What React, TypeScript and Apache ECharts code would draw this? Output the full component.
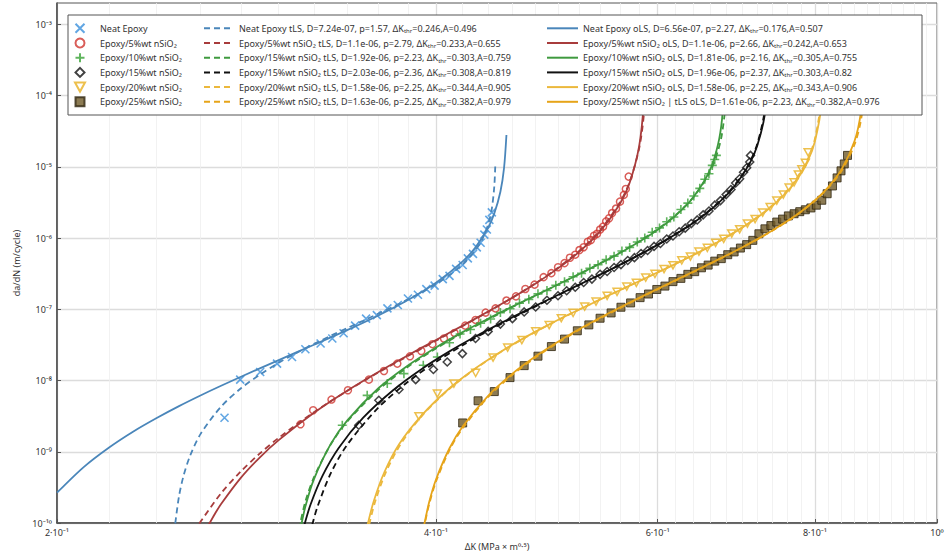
import React, { useEffect, useRef } from "react";
import * as echarts from "echarts";

const FONT = "'Noto Sans', 'DejaVu Sans', sans-serif";

// Axis ticks
const xTickValues = [0.2, 0.4, 0.6, 0.8, 1.0];
const xTickLabels = ["2·10⁻¹", "4·10⁻¹", "6·10⁻¹", "8·10⁻¹", "10⁰"];
const yTickValues = [1e-10, 1e-9, 1e-8, 1e-7, 1e-6, 1e-5, 1e-4, 1e-3];
const yTickLabels = ["10⁻¹⁰", "10⁻⁹", "10⁻⁸", "10⁻⁷", "10⁻⁶", "10⁻⁵", "10⁻⁴", "10⁻³"];

// Measured crack growth rates [ΔK, da/dN]
const neatPts = [
  [0.2717, 3.0e-9], [0.2796, 1.03e-8], [0.29, 1.32e-8], [0.2991, 1.73e-8], [0.3074, 2.14e-8],
  [0.315, 2.75e-8], [0.3239, 3.31e-8], [0.3309, 3.89e-8], [0.3378, 4.62e-8], [0.345, 5.9e-8],
  [0.352, 7.4e-8], [0.359, 8.3e-8], [0.366, 1.03e-7], [0.373, 1.15e-7], [0.38, 1.42e-7],
  [0.387, 1.6e-7], [0.393, 1.92e-7], [0.399, 2.15e-7], [0.405, 2.65e-7], [0.41, 2.95e-7],
  [0.415, 3.7e-7], [0.42, 4.2e-7], [0.424, 5.2e-7], [0.428, 6.0e-7], [0.431, 7.4e-7],
  [0.434, 8.6e-7], [0.437, 1.12e-6], [0.439, 1.32e-6], [0.441, 1.8e-6], [0.443, 2.3e-6],
];
const si5Pts = [
  [0.3122, 2.43e-9], [0.3195, 3.83e-9], [0.3304, 5.41e-9], [0.3405, 7.31e-9], [0.3538, 1.03e-8],
  [0.3637, 1.36e-8], [0.3727, 1.73e-8], [0.3814, 2.19e-8], [0.3894, 2.6e-8], [0.3974, 3.24e-8],
  [0.4059, 3.89e-8], [0.4138, 4.66e-8], [0.422, 5.9e-8], [0.43, 7.1e-8], [0.438, 9.0e-8],
  [0.446, 1.03e-7], [0.455, 1.33e-7], [0.463, 1.52e-7], [0.471, 1.93e-7], [0.479, 2.22e-7],
  [0.487, 2.83e-7], [0.494, 3.22e-7], [0.5, 3.9e-7], [0.506, 4.45e-7], [0.511, 5.3e-7],
  [0.516, 5.85e-7], [0.52, 6.8e-7], [0.524, 7.45e-7], [0.528, 8.9e-7], [0.531, 9.4e-7],
  [0.534, 1.08e-6], [0.537, 1.15e-6], [0.54, 1.32e-6], [0.543, 1.45e-6], [0.546, 1.72e-6],
  [0.549, 1.9e-6], [0.552, 2.25e-6], [0.556, 2.6e-6], [0.56, 3.25e-6], [0.564, 4.05e-6],
  [0.566, 4.9e-6], [0.569, 7.3e-6],
];
const si10Pts = [
  [0.337, 2.36e-9], [0.3527, 6.2e-9], [0.3659, 9.1e-9], [0.3772, 1.25e-8], [0.3908, 1.64e-8],
  [0.401, 2.14e-8], [0.41, 3.4e-8], [0.418, 4.5e-8], [0.426, 5.2e-8], [0.434, 6.4e-8],
  [0.442, 7.3e-8], [0.45, 9.0e-8], [0.458, 1.02e-7], [0.466, 1.22e-7], [0.474, 1.38e-7],
  [0.482, 1.65e-7], [0.49, 1.84e-7], [0.498, 2.18e-7], [0.506, 2.44e-7], [0.514, 2.87e-7],
  [0.522, 3.2e-7], [0.53, 3.78e-7], [0.538, 4.22e-7], [0.546, 4.98e-7], [0.554, 5.58e-7],
  [0.562, 6.6e-7], [0.57, 7.4e-7], [0.578, 8.8e-7], [0.586, 1.0e-6], [0.594, 1.21e-6],
  [0.602, 1.39e-6], [0.61, 1.7e-6], [0.618, 1.98e-6], [0.626, 2.52e-6], [0.634, 3.1e-6],
  [0.641, 3.9e-6], [0.648, 5.0e-6], [0.654, 6.7e-6], [0.659, 8.0e-6], [0.663, 1.05e-5],
  [0.666, 1.27e-5], [0.668, 1.45e-5],
];
const si15Pts = [
  [0.3473, 2.36e-9], [0.3603, 5.29e-9], [0.3738, 7.5e-9], [0.3854, 1.03e-8], [0.3981, 1.43e-8],
  [0.4083, 1.82e-8], [0.4198, 2.39e-8], [0.43, 3.9e-8], [0.44, 4.9e-8], [0.45, 6.2e-8],
  [0.46, 7.4e-8], [0.47, 9.2e-8], [0.48, 1.08e-7], [0.49, 1.34e-7], [0.5, 1.55e-7],
  [0.508, 1.82e-7], [0.516, 2.04e-7], [0.524, 2.38e-7], [0.532, 2.66e-7], [0.54, 3.1e-7],
  [0.547, 3.4e-7], [0.554, 3.87e-7], [0.561, 4.25e-7], [0.568, 4.85e-7], [0.575, 5.32e-7],
  [0.582, 6.07e-7], [0.589, 6.7e-7], [0.596, 7.65e-7], [0.603, 8.4e-7], [0.61, 9.7e-7],
  [0.617, 1.07e-6], [0.624, 1.23e-6], [0.631, 1.38e-6], [0.638, 1.6e-6], [0.645, 1.8e-6],
  [0.652, 2.12e-6], [0.659, 2.4e-6], [0.666, 2.9e-6], [0.673, 3.36e-6], [0.68, 4.08e-6],
  [0.686, 4.8e-6], [0.692, 5.95e-6], [0.697, 6.8e-6], [0.702, 8.4e-6], [0.706, 9.7e-6],
  [0.71, 1.17e-5], [0.711, 1.45e-5],
];
const si20Pts = [
  [0.3877, 3.15e-9], [0.401, 6.57e-9], [0.4133, 9.08e-9], [0.4301, 1.28e-8], [0.444, 2.1e-8],
  [0.456, 2.9e-8], [0.468, 3.7e-8], [0.48, 4.9e-8], [0.492, 6.0e-8], [0.503, 7.5e-8],
  [0.514, 8.9e-8], [0.525, 1.09e-7], [0.536, 1.28e-7], [0.547, 1.55e-7], [0.557, 1.76e-7],
  [0.567, 2.08e-7], [0.577, 2.36e-7], [0.587, 2.78e-7], [0.597, 3.14e-7], [0.607, 3.68e-7],
  [0.617, 4.15e-7], [0.627, 4.86e-7], [0.637, 5.5e-7], [0.647, 6.45e-7], [0.657, 7.3e-7],
  [0.667, 8.6e-7], [0.677, 9.8e-7], [0.687, 1.16e-6], [0.697, 1.33e-6], [0.707, 1.6e-6],
  [0.717, 1.85e-6], [0.727, 2.28e-6], [0.737, 2.72e-6], [0.746, 3.35e-6], [0.755, 4.08e-6],
  [0.763, 5.1e-6], [0.77, 6.05e-6], [0.776, 7.8e-6], [0.781, 9.2e-6], [0.786, 1.14e-5],
  [0.79, 1.6e-5],
];
const si25Pts = [
  [0.42, 2.54e-9], [0.432, 5.2e-9], [0.445, 7.0e-9], [0.458, 1.1e-8], [0.47, 1.62e-8],
  [0.482, 2.2e-8], [0.494, 3.0e-8], [0.506, 3.82e-8], [0.518, 5.0e-8], [0.529, 6.05e-8],
  [0.54, 7.5e-8], [0.551, 8.9e-8], [0.561, 1.07e-7], [0.571, 1.23e-7], [0.581, 1.46e-7],
  [0.59, 1.64e-7], [0.599, 1.9e-7], [0.608, 2.12e-7], [0.617, 2.45e-7], [0.626, 2.72e-7],
  [0.634, 3.1e-7], [0.642, 3.38e-7], [0.65, 3.83e-7], [0.658, 4.18e-7], [0.666, 4.75e-7],
  [0.674, 5.15e-7], [0.682, 5.85e-7], [0.69, 6.4e-7], [0.698, 7.25e-7], [0.706, 8.1e-7],
  [0.714, 9.3e-7], [0.722, 1.15e-6], [0.73, 1.35e-6], [0.738, 1.5e-6], [0.746, 1.68e-6],
  [0.754, 1.85e-6], [0.762, 2.05e-6], [0.77, 2.2e-6], [0.778, 2.35e-6], [0.786, 2.5e-6],
  [0.794, 2.65e-6], [0.802, 2.9e-6], [0.81, 3.4e-6], [0.818, 4.2e-6], [0.826, 5.4e-6],
  [0.833, 7.0e-6], [0.839, 8.8e-6], [0.844, 1.1e-5], [0.849, 1.45e-5],
];

// Fitted curves (tLS dashed, oLS solid) [ΔK, da/dN]
const neatTLS = [
  [0.2483, 9.9e-11], [0.25, 2.37e-10], [0.252, 4.5e-10], [0.255, 8.6e-10], [0.26, 1.77e-9],
  [0.27, 4.3e-9], [0.28, 7.8e-9], [0.29, 1.22e-8], [0.3, 1.78e-8], [0.31, 2.45e-8],
  [0.32, 3.27e-8], [0.33, 4.26e-8], [0.34, 5.45e-8], [0.35, 6.9e-8], [0.36, 8.7e-8],
  [0.37, 1.09e-7], [0.38, 1.38e-7], [0.39, 1.75e-7], [0.4, 2.27e-7], [0.41, 3.03e-7],
  [0.42, 4.28e-7], [0.43, 6.8e-7], [0.435, 9.4e-7], [0.44, 1.55e-6], [0.443, 2.6e-6],
  [0.445, 5.3e-6], [0.4458, 1.04e-5],
];
const neatOLS = [
  [0.2, 2.66e-10], [0.21, 6.1e-10], [0.22, 1.15e-9], [0.23, 1.93e-9], [0.24, 2.98e-9],
  [0.25, 4.38e-9], [0.26, 6.18e-9], [0.27, 8.46e-9], [0.28, 1.13e-8], [0.3, 1.94e-8],
  [0.32, 3.18e-8], [0.34, 5.1e-8], [0.36, 8.2e-8], [0.38, 1.35e-7], [0.4, 2.36e-7],
  [0.42, 4.72e-7], [0.43, 7.46e-7], [0.44, 1.4e-6], [0.445, 2.22e-6], [0.45, 4.48e-6],
  [0.453, 9.6e-6], [0.455, 2.8e-5],
];
const si5TLS = [
  [0.2595, 9.8e-11], [0.26, 1.04e-10], [0.27, 2.62e-10], [0.28, 5.33e-10], [0.29, 9.55e-10],
  [0.3, 1.57e-9], [0.32, 3.6e-9], [0.34, 7.15e-9], [0.36, 1.3e-8], [0.38, 2.21e-8],
  [0.4, 3.63e-8], [0.42, 5.82e-8], [0.44, 9.2e-8], [0.46, 1.46e-7], [0.48, 2.33e-7],
  [0.5, 3.83e-7], [0.52, 6.67e-7], [0.54, 1.29e-6], [0.56, 3.18e-6], [0.57, 6.15e-6],
  [0.58, 1.82e-5], [0.585, 5.4e-5], [0.588, 2.55e-4],
];
const si5OLS = [
  [0.264, 9.5e-11], [0.267, 1.35e-10], [0.27, 1.85e-10], [0.28, 4.34e-10], [0.29, 8.44e-10],
  [0.3, 1.46e-9], [0.32, 3.53e-9], [0.34, 7.2e-9], [0.36, 1.32e-8], [0.38, 2.26e-8],
  [0.4, 3.71e-8], [0.42, 5.91e-8], [0.44, 9.3e-8], [0.46, 1.46e-7], [0.48, 2.31e-7],
  [0.5, 3.76e-7], [0.52, 6.46e-7], [0.54, 1.24e-6], [0.56, 3.04e-6], [0.57, 5.98e-6],
  [0.58, 1.96e-5], [0.585, 8.2e-5], [0.587, 5.0e-4],
];
const si10TLS = [
  [0.31, 5.9e-11], [0.3121, 1.0e-10], [0.315, 2.0e-10], [0.32, 4.4e-10], [0.33, 1.27e-9],
  [0.34, 2.65e-9], [0.36, 7.4e-9], [0.38, 1.56e-8], [0.4, 2.82e-8], [0.42, 4.65e-8],
  [0.44, 7.2e-8], [0.46, 1.08e-7], [0.48, 1.56e-7], [0.5, 2.23e-7], [0.52, 3.14e-7],
  [0.54, 4.42e-7], [0.56, 6.27e-7], [0.58, 9.0e-7], [0.6, 1.34e-6], [0.62, 2.11e-6],
  [0.64, 3.7e-6], [0.66, 8.4e-6], [0.67, 1.69e-5], [0.675, 2.97e-5], [0.68, 8.9e-5],
  [0.682, 2.9e-4],
];
const si10OLS = [
  [0.312, 7.8e-11], [0.315, 1.7e-10], [0.32, 4.14e-10], [0.33, 1.29e-9], [0.34, 2.74e-9],
  [0.36, 7.8e-9], [0.38, 1.63e-8], [0.4, 2.92e-8], [0.42, 4.79e-8], [0.44, 7.38e-8],
  [0.46, 1.09e-7], [0.48, 1.57e-7], [0.5, 2.23e-7], [0.52, 3.13e-7], [0.54, 4.39e-7],
  [0.56, 6.18e-7], [0.58, 8.87e-7], [0.6, 1.31e-6], [0.62, 2.07e-6], [0.64, 3.68e-6],
  [0.66, 8.9e-6], [0.67, 2.07e-5], [0.675, 4.77e-5], [0.678, 1.59e-4],
];
const si15TLS = [
  [0.319, 9.5e-11], [0.322, 1.68e-10], [0.33, 5.0e-10], [0.34, 1.25e-9], [0.36, 4.17e-9],
  [0.38, 9.6e-9], [0.4, 1.83e-8], [0.42, 3.13e-8], [0.44, 4.99e-8], [0.46, 7.55e-8],
  [0.48, 1.1e-7], [0.5, 1.57e-7], [0.52, 2.21e-7], [0.54, 3.06e-7], [0.56, 4.22e-7],
  [0.58, 5.82e-7], [0.6, 8.09e-7], [0.62, 1.14e-6], [0.64, 1.64e-6], [0.66, 2.48e-6],
  [0.68, 4.02e-6], [0.7, 7.59e-6], [0.71, 1.16e-5], [0.72, 2.12e-5], [0.73, 6.35e-5],
  [0.735, 2.75e-4],
];
const si15OLS = [
  [0.314, 8.6e-11], [0.318, 1.82e-10], [0.325, 4.6e-10], [0.335, 1.15e-9], [0.35, 2.99e-9],
  [0.37, 7.38e-9], [0.39, 1.47e-8], [0.41, 2.57e-8], [0.43, 4.15e-8], [0.45, 6.35e-8],
  [0.47, 9.36e-8], [0.49, 1.34e-7], [0.51, 1.89e-7], [0.53, 2.62e-7], [0.55, 3.6e-7],
  [0.57, 4.95e-7], [0.59, 6.84e-7], [0.61, 9.52e-7], [0.63, 1.35e-6], [0.65, 1.98e-6],
  [0.67, 3.08e-6], [0.69, 5.27e-6], [0.71, 1.12e-5], [0.72, 2.01e-5], [0.73, 5.56e-5],
  [0.736, 2.97e-4],
];
const si20TLS = [
  [0.354, 9.5e-11], [0.358, 2.04e-10], [0.365, 5.18e-10], [0.375, 1.28e-9], [0.39, 3.22e-9],
  [0.41, 7.67e-9], [0.43, 1.47e-8], [0.45, 2.5e-8], [0.47, 3.94e-8], [0.49, 5.87e-8],
  [0.51, 8.41e-8], [0.53, 1.17e-7], [0.55, 1.6e-7], [0.57, 2.15e-7], [0.59, 2.87e-7],
  [0.61, 3.8e-7], [0.63, 5.03e-7], [0.65, 6.65e-7], [0.67, 8.88e-7], [0.69, 1.2e-6],
  [0.71, 1.66e-6], [0.73, 2.37e-6], [0.75, 3.6e-6], [0.77, 6.1e-6], [0.79, 1.32e-5],
  [0.8, 2.51e-5], [0.81, 9.8e-5], [0.8135, 5.4e-4],
];
const si20OLS = [
  [0.353, 9.5e-11], [0.357, 2.04e-10], [0.364, 5.2e-10], [0.374, 1.29e-9], [0.39, 3.3e-9],
  [0.41, 7.8e-9], [0.43, 1.49e-8], [0.45, 2.52e-8], [0.47, 3.97e-8], [0.49, 5.9e-8],
  [0.51, 8.45e-8], [0.53, 1.17e-7], [0.55, 1.6e-7], [0.57, 2.15e-7], [0.59, 2.87e-7],
  [0.61, 3.79e-7], [0.63, 5.01e-7], [0.65, 6.62e-7], [0.67, 8.83e-7], [0.69, 1.19e-6],
  [0.71, 1.64e-6], [0.73, 2.33e-6], [0.75, 3.52e-6], [0.77, 5.9e-6], [0.79, 1.25e-5],
  [0.8, 2.3e-5], [0.81, 8.05e-5], [0.814, 6.0e-4],
];
const si25TLS = [
  [0.391, 7.9e-11], [0.392, 1.0e-10], [0.395, 1.82e-10], [0.4, 3.82e-10], [0.41, 1.06e-9],
  [0.42, 2.15e-9], [0.44, 5.86e-9], [0.46, 1.2e-8], [0.48, 2.12e-8], [0.5, 3.41e-8],
  [0.52, 5.16e-8], [0.54, 7.46e-8], [0.56, 1.04e-7], [0.58, 1.43e-7], [0.6, 1.91e-7],
  [0.62, 2.53e-7], [0.64, 3.32e-7], [0.66, 4.33e-7], [0.68, 5.64e-7], [0.7, 7.34e-7],
  [0.72, 9.6e-7], [0.74, 1.27e-6], [0.76, 1.7e-6], [0.78, 2.34e-6], [0.8, 3.35e-6],
  [0.82, 5.12e-6], [0.84, 8.83e-6], [0.86, 2.06e-5], [0.87, 4.45e-5], [0.877, 1.41e-4],
  [0.88, 6.3e-4],
];
const si25OLS = [
  [0.391, 8.5e-11], [0.395, 1.95e-10], [0.4, 4.08e-10], [0.41, 1.12e-9], [0.42, 2.26e-9],
  [0.44, 6.1e-9], [0.46, 1.25e-8], [0.48, 2.19e-8], [0.5, 3.51e-8], [0.52, 5.28e-8],
  [0.54, 7.62e-8], [0.56, 1.06e-7], [0.58, 1.45e-7], [0.6, 1.94e-7], [0.62, 2.57e-7],
  [0.64, 3.36e-7], [0.66, 4.38e-7], [0.68, 5.69e-7], [0.7, 7.4e-7], [0.72, 9.68e-7],
  [0.74, 1.28e-6], [0.76, 1.72e-6], [0.78, 2.37e-6], [0.8, 3.4e-6], [0.82, 5.25e-6],
  [0.84, 9.26e-6], [0.86, 2.31e-5], [0.87, 5.8e-5], [0.876, 2.41e-4],
];

const scatterNames = [
  "Neat Epoxy",
  "Epoxy/5%wt nSiO₂",
  "Epoxy/10%wt nSiO₂",
  "Epoxy/15%wt nSiO₂",
  "Epoxy/20%wt nSiO₂",
  "Epoxy/25%wt nSiO₂",
];
const tlsNames = [
  "Neat Epoxy tLS, D=7.24e-07, p=1.57, ΔK_thr=0.246,A=0.496",
  "Epoxy/5%wt nSiO₂ tLS, D=1.1e-06, p=2.79, ΔK_thr=0.233,A=0.655",
  "Epoxy/15%wt nSiO₂ tLS, D=1.92e-06, p=2.23, ΔK_thr=0.303,A=0.759",
  "Epoxy/15%wt nSiO₂ tLS, D=2.03e-06, p=2.36, ΔK_thr=0.308,A=0.819",
  "Epoxy/20%wt nSiO₂ tLS, D=1.58e-06, p=2.25, ΔK_thr=0.344,A=0.905",
  "Epoxy/25%wt nSiO₂ tLS, D=1.63e-06, p=2.25, ΔK_thr=0.382,A=0.979",
];
const olsNames = [
  "Neat Epoxy oLS, D=6.56e-07, p=2.27, ΔK_thr=0.176,A=0.507",
  "Epoxy/5%wt nSiO₂ oLS, D=1.1e-06, p=2.66, ΔK_thr=0.242,A=0.653",
  "Epoxy/10%wt nSiO₂ oLS, D=1.81e-06, p=2.16, ΔK_thr=0.305,A=0.755",
  "Epoxy/15%wt nSiO₂ oLS, D=1.96e-06, p=2.37, ΔK_thr=0.303,A=0.82",
  "Epoxy/20%wt nSiO₂ oLS, D=1.58e-06, p=2.25, ΔK_thr=0.343,A=0.906",
  "Epoxy/25%wt nSiO₂ | tLS oLS, D=1.61e-06, p=2.23, ΔK_thr=0.382,A=0.976",
];

const pointSets = [neatPts, si5Pts, si10Pts, si15Pts, si20Pts, si25Pts];
const tlsSets = [neatTLS, si5TLS, si10TLS, si15TLS, si20TLS, si25TLS];
const olsSets = [neatOLS, si5OLS, si10OLS, si15OLS, si20OLS, si25OLS];

const lineColors = ["#4a86ba", "#a83c3c", "#3f9a3f", "#111111", "#ebb83c", "#e6a419"];

// Marker outlines as square-box paths so they keep their aspect in the legend
const markerStyles: any[] = [
  { symbol: "path://M0,0L10,10M10,0L0,10", symbolSize: 8, itemStyle: { color: "transparent", borderColor: "#3a90dc", borderWidth: 1.6 } },
  { symbol: "circle", symbolSize: 7, itemStyle: { color: "transparent", borderColor: "#d0352e", borderWidth: 1.5 } },
  { symbol: "path://M5,0L5,10M0,5L10,5", symbolSize: 9, itemStyle: { color: "transparent", borderColor: "#38a236", borderWidth: 1.6 } },
  { symbol: "path://M5,0L10,5L5,10L0,5Z", symbolSize: 8, itemStyle: { color: "transparent", borderColor: "#111111", borderWidth: 1.5 } },
  { symbol: "path://M0,0L10,0L5,9Z", symbolSize: 8, itemStyle: { color: "transparent", borderColor: "#e8b020", borderWidth: 1.5 } },
  { symbol: "path://M0,0L10,0L10,10L0,10Z", symbolSize: 8, itemStyle: { color: "#6f5a28", borderColor: "#2f2610", borderWidth: 1 } },
];

// faint minor grid: ten linear steps inside each major interval
const xMinor: number[] = [];
for (let i = 11; i < 50; i++) {
  if (i % 10 !== 0) xMinor.push(i / 50);
}
const yMinor: number[] = [];
for (let e = -10; e <= -3; e++) {
  for (let m = 2; m <= 9; m++) {
    const v = m * Math.pow(10, e);
    if (v < 2e-3) yMinor.push(v);
  }
}

function xLabel(v: number) {
  const i = xTickValues.findIndex((t) => Math.abs(t - v) < 1e-6);
  return i >= 0 ? xTickLabels[i] : "";
}
function yLabel(v: number) {
  const i = yTickValues.findIndex((t) => Math.abs(Math.log10(t) - Math.log10(v)) < 1e-6);
  return i >= 0 ? yTickLabels[i] : "";
}

export default function App() {
  const ref = useRef<HTMLDivElement>(null);
  useEffect(() => {
    if (!ref.current) return;
    const chart = echarts.init(ref.current, null, { renderer: "svg" });

    const legendBase: any = {
      orient: "vertical",
      padding: 0,
      itemGap: 2.7,
      itemHeight: 10,
      top: 22.3,
      selectedMode: false,
      textStyle: {
        fontSize: 9,
        fontFamily: FONT,
        color: "#333",
        lineHeight: 12,
        rich: {
          t: { fontSize: 6, lineHeight: 8, verticalAlign: "bottom", fontFamily: FONT, color: "#333" },
        },
      },
      formatter: (n: string) => n.replace("ΔK_thr", "ΔK{t|thr}"),
    };

    const series: any[] = [];
    pointSets.forEach((pts, i) => {
      const s: any = {
        type: "scatter",
        name: scatterNames[i],
        data: pts,
        symbolKeepAspect: true,
        ...markerStyles[i],
        z: 2,
      };
      if (i === 0) {
        s.markLine = {
          silent: true,
          z: 1,
          symbol: "none",
          label: { show: false },
          lineStyle: { color: "#efefef", width: 0.8, type: "solid" },
          data: [...xMinor.map((v) => ({ xAxis: v })), ...yMinor.map((v) => ({ yAxis: v }))],
        };
      }
      series.push(s);
    });
    tlsSets.forEach((pts, i) => {
      series.push({
        type: "line",
        name: tlsNames[i],
        data: pts,
        smooth: 0.3,
        symbol: "none",
        showSymbol: false,
        lineStyle: { color: lineColors[i], width: 1.8, type: [6, 4] },
        itemStyle: { color: lineColors[i] },
        z: 3,
      });
    });
    olsSets.forEach((pts, i) => {
      series.push({
        type: "line",
        name: olsNames[i],
        data: pts,
        smooth: 0.3,
        symbol: "none",
        showSymbol: false,
        lineStyle: { color: lineColors[i], width: 1.8, type: "solid" },
        itemStyle: { color: lineColors[i] },
        z: 3,
      });
    });

    chart.setOption({
      animation: false,
      backgroundColor: "#ffffff",
      grid: {
        left: 57,
        right: 8,
        top: 3,
        bottom: 31,
        show: true,
        borderColor: "#555",
        borderWidth: 1,
        outerBoundsMode: "none",
      },
      xAxis: {
        type: "log",
        logBase: 10,
        min: 0.2,
        max: 1.0,
        name: "ΔK (MPa × m⁰·⁵)",
        nameLocation: "middle",
        nameGap: 18,
        nameTextStyle: { fontSize: 9, fontFamily: FONT, color: "#333" },
        axisLine: { show: true, lineStyle: { color: "#444", width: 1.5 } },
        axisTick: { show: true, inside: true, length: 4, customValues: xTickValues, lineStyle: { color: "#555" } },
        axisLabel: {
          customValues: xTickValues,
          formatter: (v: number) => xLabel(v),
          fontSize: 9,
          fontFamily: FONT,
          color: "#333",
          margin: 5,
        },
        splitLine: { show: true, lineStyle: { color: "#dcdcdc", width: 1.3 } },
      },
      yAxis: {
        type: "log",
        logBase: 10,
        min: 1e-10,
        max: 2e-3,
        name: "da/dN (m/cycle)",
        nameLocation: "middle",
        nameGap: 36,
        nameTextStyle: { fontSize: 9, fontFamily: FONT, color: "#333" },
        axisLine: { show: true, lineStyle: { color: "#444", width: 1.5 } },
        axisTick: { show: true, inside: true, length: 4, customValues: yTickValues, lineStyle: { color: "#555" } },
        axisLabel: {
          customValues: yTickValues,
          formatter: (v: number) => yLabel(v),
          fontSize: 9,
          fontFamily: FONT,
          color: "#333",
          margin: 5,
        },
        splitLine: { show: true, lineStyle: { color: "#dcdcdc", width: 1.3 } },
      },
      legend: [
        { ...legendBase, left: 74, itemWidth: 30, itemHeight: 9, symbolKeepAspect: true, data: scatterNames },
        { ...legendBase, left: 203, itemWidth: 30, itemStyle: { opacity: 0 }, data: tlsNames },
        { ...legendBase, left: 546, itemWidth: 31, itemStyle: { opacity: 0 }, data: olsNames },
      ],
      graphic: [
        {
          type: "rect",
          z: 3.5,
          silent: true,
          shape: { x: 68, y: 15, width: 854, height: 100 },
          style: { fill: "#ffffff", stroke: "#555", lineWidth: 1 },
        },
      ],
      series,
    });

    return () => chart.dispose();
  }, []);

  return (
    <div
      ref={ref}
      style={{ position: "fixed", left: 0, top: 0, width: 945, height: 554, background: "#fff" }}
    />
  );
}
